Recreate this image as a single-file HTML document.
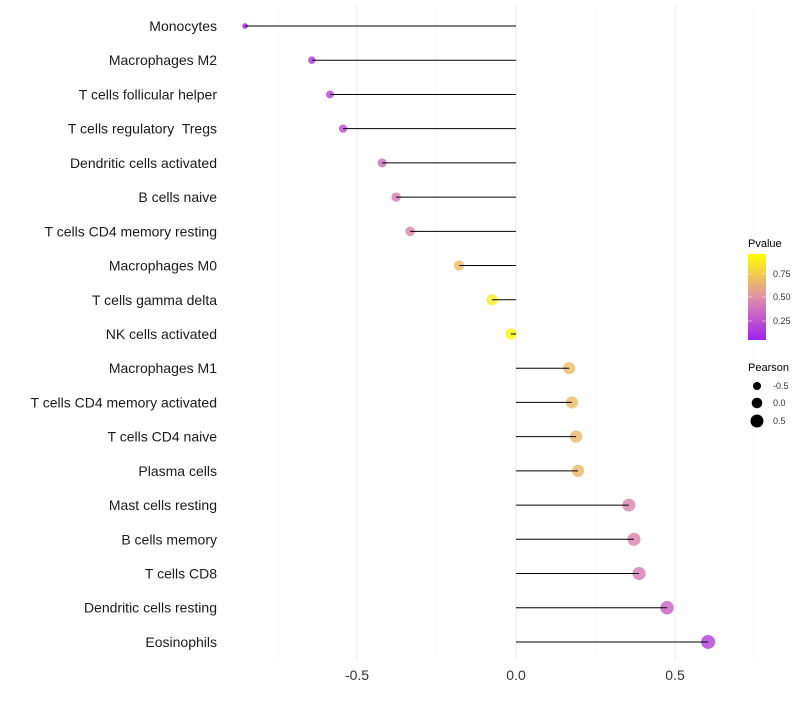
<!DOCTYPE html>
<html><head><meta charset="utf-8"><style>
body{margin:0;background:#fff;font-family:"Liberation Sans",sans-serif}
</style></head><body>
<svg id="chart" width="800" height="700" xmlns="http://www.w3.org/2000/svg">
<defs><linearGradient id="pg" x1="0" y1="1" x2="0" y2="0">
<stop offset="0" stop-color="#a020f0"/><stop offset="0.5" stop-color="#e090a8"/><stop offset="1" stop-color="#ffff00"/></linearGradient></defs>
<g id="grid"></g><g id="points"></g><g id="stems"></g><g id="labels"></g>
<g font-size="10">
<text x="748" y="247" font-size="11">Pvalue</text>
<rect x="748" y="254" width="18" height="86" fill="url(#pg)"/>
<line x1="748" y1="274" x2="752" y2="274" stroke="#fff" opacity="0.5"/><line x1="762" y1="274" x2="766" y2="274" stroke="#fff" opacity="0.5"/>
<line x1="748" y1="297" x2="752" y2="297" stroke="#fff" opacity="0.5"/><line x1="762" y1="297" x2="766" y2="297" stroke="#fff" opacity="0.5"/>
<line x1="748" y1="321" x2="752" y2="321" stroke="#fff" opacity="0.5"/><line x1="762" y1="321" x2="766" y2="321" stroke="#fff" opacity="0.5"/>
<text x="773" y="277" font-size="9" fill="#333">0.75</text>
<text x="773" y="300" font-size="9" fill="#333">0.50</text>
<text x="773" y="324" font-size="9" fill="#333">0.25</text>
</g>
<g>
<text x="748" y="371" font-size="11">Pearson</text>
<circle cx="757" cy="386" r="4" fill="#000"/><text x="773" y="389" font-size="9" fill="#333">-0.5</text>
<circle cx="757" cy="403" r="5.3" fill="#000"/><text x="773" y="406" font-size="9" fill="#333">0.0</text>
<circle cx="757" cy="421" r="6.5" fill="#000"/><text x="773" y="424" font-size="9" fill="#333">0.5</text>
</g>
</svg>
<script>
const cells=["Monocytes","Macrophages M2","T cells follicular helper","T cells regulatory  Tregs","Dendritic cells activated","B cells naive","T cells CD4 memory resting","Macrophages M0","T cells gamma delta","NK cells activated","Macrophages M1","T cells CD4 memory activated","T cells CD4 naive","Plasma cells","Mast cells resting","B cells memory","T cells CD8","Dendritic cells resting","Eosinophils"];
const pearson=[-0.852,-0.642,-0.585,-0.544,-0.421,-0.377,-0.333,-0.179,-0.075,-0.016,0.167,0.176,0.189,0.195,0.355,0.371,0.387,0.475,0.604];
const pvalue=[0.03,0.12,0.17,0.22,0.35,0.4,0.45,0.7,0.92,0.96,0.7,0.7,0.68,0.68,0.45,0.45,0.42,0.3,0.15];
const xTicks=[-0.5,0,0.5];
const minorTicks=[-0.75,-0.25,0.25,0.75];
const NS="http://www.w3.org/2000/svg";
const x=v=>516+v*318;
const y=i=>26+i*34.22;
const rad=v=>Math.sqrt(Math.max(2.25,14.4+27.9*(v+0.64)));
function lerp(a,b,t){return a.map((c,k)=>Math.round(c+(b[k]-c)*t));}
function col(p){const s=[[160,32,240],[224,144,168],[255,255,0]];let c=p<0.5?lerp(s[0],s[1],p/0.5):lerp(s[1],s[2],(p-0.5)/0.5);return`rgb(${c.join(',')})`;}
function mk(t,a,parent){const e=document.createElementNS(NS,t);for(const k in a)e.setAttribute(k,a[k]);parent.appendChild(e);return e;}
const g=document.getElementById('grid'),p=document.getElementById('points'),s=document.getElementById('stems'),l=document.getElementById('labels');
minorTicks.forEach(v=>{const e=mk('line',{x1:x(v),x2:x(v),y1:5,y2:660,stroke:'#f3f3f3','stroke-width':0.6},g);

});
xTicks.forEach(v=>{const e=mk('line',{x1:x(v),x2:x(v),y1:5,y2:660,stroke:'#ebebeb','stroke-width':1.1},g);


const t=mk('text',{x:x(v),y:680,'text-anchor':'middle','font-size':14,fill:'#333'},l);t.textContent=v===0?'0.0':v.toFixed(1);

});
cells.forEach((c,i)=>{
const ci=mk('circle',{cx:x(pearson[i]),cy:y(i),r:rad(pearson[i]),fill:col(pvalue[i]),'fill-opacity':0.82},p);


const ln=mk('line',{x1:x(0),x2:x(pearson[i]),y1:y(i),y2:y(i),stroke:'#000','stroke-width':1},s);


const t=mk('text',{x:217,y:y(i)+5,'text-anchor':'end','font-size':14,fill:'#1a1a1a'},l);t.textContent=c;


t.style.whiteSpace='pre';
});
</script>
</body></html>
